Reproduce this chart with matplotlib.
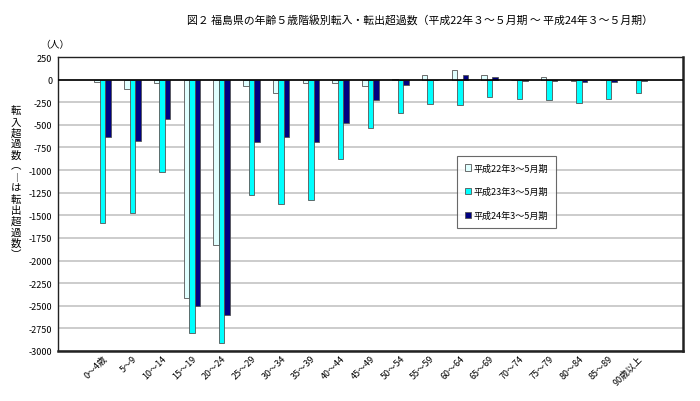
import matplotlib.pyplot as plt
import numpy as np

plt.rcParams['font.family'] = ['Noto Sans CJK JP', 'DejaVu Sans']

# 年齢階級
categories = ['0～4歳', '5～9', '10～14', '15～19', '20～24', '25～29', '30～34',
              '35～39', '40～44', '45～49', '50～54', '55～59', '60～64', '65～69',
              '70～74', '75～79', '80～84', '85～89', '90歳以上']

# 転入超過数（人）
h22 = [-25, -100, -35, -2410, -1830, -75, -145, -35, -35, -70,
       10, 50, 110, 55, -5, 30, -10, -5, -5]
h23 = [-1580, -1470, -1020, -2805, -2910, -1280, -1380, -1330, -875, -540,
       -370, -275, -280, -190, -215, -225, -255, -215, -150]
h24 = [-630, -680, -440, -2500, -2605, -695, -635, -690, -475, -230,
       -65, -5, 55, 25, -10, -15, -30, -25, -20]

series_labels = ['平成22年3～5月期', '平成23年3～5月期', '平成24年3～5月期']
colors = ['#e0ffff', '#00ffff', '#000080']

fig = plt.figure(figsize=(7, 4.02), dpi=100)
ax = fig.add_axes([58/700, 1 - 352/402, 625/700, 294/402])

x = np.arange(len(categories))
w = 0.185
for i, (vals, lab, col) in enumerate(zip([h22, h23, h24], series_labels, colors)):
    ax.bar(x + (i - 1) * w, vals, width=w, color=col, edgecolor='#555555',
           linewidth=0.6, label=lab, zorder=3)

ax.set_xlim(-1.5, len(categories) + 0.5)
ax.set_ylim(-3000, 250)
ax.set_yticks(np.arange(-3000, 251, 250))
ax.set_yticklabels([str(v) for v in np.arange(-3000, 251, 250)], fontsize=6.5)
ax.yaxis.grid(True, color='#c4c4c4', linewidth=1.2, zorder=0)
ax.axhline(0, color='black', linewidth=1.2, zorder=4)
ax.tick_params(axis='y', length=0, pad=4)
ax.tick_params(axis='x', length=0, pad=2)
ax.set_xticks(x)
ax.set_xticklabels(categories, rotation=45, ha='right', rotation_mode='anchor', fontsize=6.5)

for s in ['top', 'left']:
    ax.spines[s].set_linewidth(1.0)
for s in ['bottom', 'right']:
    ax.spines[s].set_linewidth(1.8)
for s in ax.spines.values():
    s.set_color('#222222')

leg = ax.legend(loc='upper left', bbox_to_anchor=(394/625, 1 - 94/294), fontsize=6.5,
                frameon=True, fancybox=False, edgecolor='#444444', handlelength=0.7,
                handleheight=0.7, labelspacing=1.6, borderpad=0.9, handletextpad=0.3)
leg.get_frame().set_linewidth(0.8)

fig.text(420/700, 1 - 20/402, '図２ 福島県の年齢５歳階級別転入・転出超過数（平成22年３～５月期 ～ 平成24年３～５月期）',
         ha='center', va='center', fontsize=7.8)
fig.text(55/700, 1 - 45/402, '（人）', ha='center', va='center', fontsize=7)

# 縦書きの軸ラベル
ylab = '転入超過数︵︱は転出超過数︶'
for k, ch in enumerate(ylab):
    fig.text(16/700, 1 - (111 + k * 11.1)/402, ch, ha='center', va='center', fontsize=7.5)

fig.savefig('out.png', dpi=100)
